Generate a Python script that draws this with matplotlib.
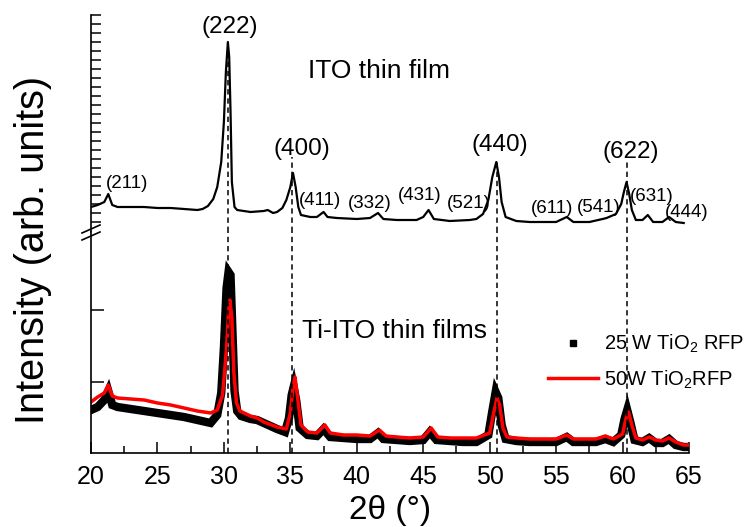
import matplotlib
matplotlib.use('Agg')
import matplotlib.pyplot as plt
from matplotlib.lines import Line2D
from matplotlib.ticker import FixedLocator, MultipleLocator

plt.rcParams['font.family'] = ['Liberation Sans', 'DejaVu Sans']
plt.rcParams['mathtext.fontset'] = 'custom'
plt.rcParams['mathtext.rm'] = 'Liberation Sans'
plt.rcParams['mathtext.it'] = 'Liberation Sans:italic'

# ITO thin film pattern (upper panel, arb. units)
ito_2theta = [20.0, 20.5, 21.0, 21.3, 21.6, 22.0, 23.0, 24.0, 25.0, 26.0, 27.0, 28.0,
              28.4, 28.8, 29.2, 29.5, 29.8, 30.0, 30.15, 30.3, 30.4, 30.5, 30.6, 30.8,
              31.0, 31.5, 32.0, 33.0, 33.3, 33.7, 34.0, 34.4, 34.7, 35.0, 35.2, 35.4,
              35.6, 35.8, 36.5, 37.0, 37.5, 37.8, 38.5, 40.0, 41.0, 41.6, 42.0, 43.0,
              44.5, 45.0, 45.4, 45.8, 47.0, 48.5, 49.0, 49.5, 49.9, 50.2, 50.5, 50.7,
              50.9, 51.2, 52.0, 53.0, 55.0, 55.8, 56.3, 57.5, 58.5, 58.8, 59.5, 59.9,
              60.1, 60.3, 60.5, 60.7, 61.0, 61.5, 61.9, 62.3, 63.0, 63.5, 64.0, 64.6]
ito_int = [25, 27, 30, 38, 27, 25, 25, 25, 24, 24, 23, 22,
           23, 26, 33, 45, 70, 110, 160, 190, 175, 120, 50, 25,
           22, 21, 20, 21, 22, 19, 20, 24, 32, 45, 59, 45,
           25, 17, 15, 15, 20, 15, 14, 13, 14, 19, 13, 12,
           12, 15, 22, 13, 11, 12, 13, 18, 32, 55, 70, 55,
           30, 15, 11, 10, 10, 15, 10, 10, 13, 14, 18, 28,
           40, 50, 38, 22, 12, 12, 17, 10, 10, 15, 10, 9]

# Ti-ITO, 25 W TiO2 RF power (lower panel)
w25_2theta = [20.0, 20.5, 21.0, 21.3, 21.6, 22.0, 23.0, 24.0, 25.0, 26.0, 27.0, 28.0,
              29.0, 29.5, 29.8, 30.0, 30.2, 30.35, 30.5, 30.65, 30.8, 31.0, 31.3, 32.0,
              32.5, 33.0, 34.0, 34.6, 34.9, 35.1, 35.25, 35.45, 35.7, 36.3, 37.0, 37.5,
              38.0, 39.0, 40.0, 41.0, 41.6, 42.0, 43.0, 44.0, 45.0, 45.5, 46.0, 47.0,
              48.0, 49.0, 49.9, 50.2, 50.45, 50.65, 50.9, 51.2, 52.0, 53.0, 54.0, 55.0,
              55.8, 56.3, 57.0, 58.0, 58.7, 59.3, 59.9, 60.15, 60.35, 60.6, 60.9, 61.5,
              62.0, 62.5, 63.0, 63.5, 64.0, 64.6, 65.0]
w25_int = [43, 46, 53, 62, 48, 46, 44, 42, 40, 38, 36, 33,
           30, 38, 60, 105, 165, 181, 178, 120, 62, 42, 37, 34,
           33, 30, 24, 21, 35, 58, 66, 52, 25, 18, 17, 24,
           16, 15, 14, 14, 20, 14, 13, 12, 13, 21, 13, 12,
           11, 11, 18, 42, 61, 55, 28, 14, 12, 11, 11, 11,
           16, 11, 11, 11, 14, 11, 18, 34, 43, 30, 13, 11,
           15, 10, 10, 14, 8, 6, 6]

# Ti-ITO, 50 W TiO2 RF power (lower panel)
w50_2theta = [20.0, 20.5, 21.0, 21.3, 21.6, 22.0, 23.0, 24.0, 25.0, 26.0, 27.0, 28.0,
              29.0, 29.5, 29.9, 30.2, 30.35, 30.45, 30.6, 30.75, 30.95, 31.2, 32.0, 32.5,
              33.0, 34.0, 34.7, 35.0, 35.2, 35.35, 35.55, 35.8, 36.3, 37.0, 37.6, 38.0,
              39.0, 40.0, 41.0, 41.7, 42.2, 43.0, 44.0, 45.0, 45.6, 46.1, 47.0, 48.0,
              49.0, 50.0, 50.3, 50.55, 50.75, 51.0, 51.3, 52.0, 53.0, 54.0, 55.0, 55.8,
              56.3, 57.0, 58.0, 58.7, 59.3, 60.0, 60.25, 60.45, 60.7, 61.0, 61.5, 62.0,
              62.5, 63.0, 63.5, 64.0, 64.6, 65.0]
w50_int = [51, 56, 60, 68, 57, 55, 54, 53, 50, 48, 45, 42,
           40, 43, 58, 105, 140, 153, 135, 80, 50, 42, 37, 35,
           31, 26, 24, 40, 66, 76, 55, 28, 21, 20, 28, 20,
           18, 18, 17, 23, 17, 16, 15, 16, 25, 16, 15, 15,
           15, 20, 40, 55, 48, 25, 16, 15, 14, 14, 14, 18,
           14, 14, 14, 17, 14, 19, 34, 41, 28, 15, 13, 16,
           13, 12, 15, 11, 8, 8]

# reflection labels
major_hkl = ['(222)', '(400)', '(440)', '(622)']
minor_hkl = ['(211)', '(411)', '(332)', '(431)', '(521)', '(611)', '(541)', '(631)', '(444)']
ref_2theta = [30.3, 35.15, 50.55, 60.3]

W, H = 752, 527
fig = plt.figure(figsize=(W / 100, H / 100), dpi=100)
ax_top = fig.add_axes([91 / W, 1 - 232 / H, 598 / W, 217 / H])
ax_bot = fig.add_axes([91 / W, 1 - 453 / H, 598 / W, 221 / H])

# dashed reference lines (upper part stops under the labels)
line_tops = [190, 75, 72, 70]
for x, top in zip(ref_2theta, line_tops):
    ax_top.axvline(x, ymin=0, ymax=top / 217.0, color='k', ls=(0, (3.5, 2.5)), lw=1.1)

ax_top.plot(ito_2theta, ito_int, color='k', lw=1.6)
ax_bot.plot(w25_2theta, w25_int, color='k', lw=6, solid_joinstyle='miter')
ax_bot.plot(w50_2theta, w50_int, color='#ff0000', lw=2.5)

for x in ref_2theta:
    ax_bot.axvline(x, color='k', ls=(0, (3.5, 2.5)), lw=1.1)

for ax in (ax_top, ax_bot):
    ax.set_xlim(20, 65)
    for s in ax.spines.values():
        s.set_linewidth(1.2)
    ax.spines['top'].set_visible(False)
    ax.spines['right'].set_visible(False)

ax_top.set_ylim(0, 217)
ax_bot.set_ylim(0, 221)

ax_top.spines['bottom'].set_visible(False)
ax_top.set_xticks([])
ax_top.yaxis.set_major_locator(FixedLocator(list(range(10, 218, 9))))
ax_top.tick_params(axis='y', direction='in', length=7, width=1.1, labelleft=False)

ax_bot.yaxis.set_major_locator(FixedLocator([71, 143]))
ax_bot.tick_params(axis='y', direction='in', length=9, width=1.1, labelleft=False)
ax_bot.xaxis.set_major_locator(MultipleLocator(5))
ax_bot.xaxis.set_minor_locator(MultipleLocator(2.5))
ax_bot.tick_params(axis='x', which='major', direction='in', length=8, width=1.1,
                   labelsize=18, pad=9)
ax_bot.tick_params(axis='x', which='minor', direction='in', length=5, width=1.1)
ax_bot.set_xlabel('2θ (°)', fontsize=24, labelpad=4)

fig.text(33 / W, 1 - 250 / H, 'Intensity (arb. units)', rotation=90, fontsize=28.5,
         ha='center', va='center')

# peak labels
major_pos = [(30.46, 199), (35.9, 77), (50.78, 81), (60.6, 74)]
for lab, (x, y) in zip(major_hkl, major_pos):
    ax_top.text(x, y, lab, fontsize=17.5, ha='center', va='baseline')
minor_pos = [(22.7, 44), (37.2, 27), (41.0, 24), (44.75, 32), (48.4, 24),
             (54.7, 19), (58.2, 20), (62.2, 31), (64.85, 15)]
for lab, (x, y) in zip(minor_hkl, minor_pos):
    ax_top.text(x, y, lab, fontsize=13.5, ha='center', va='baseline', clip_on=False)

ax_top.text(36.33, 154, 'ITO thin film', fontsize=19, ha='left', va='baseline')
ax_bot.text(35.88, 115, 'Ti-ITO thin films', fontsize=19, ha='left', va='baseline')

# axis break marks
for y0 in (233, 240):
    fig.add_artist(Line2D([82 / W, 100 / W], [1 - y0 / H, 1 - (y0 - 8) / H],
                          transform=fig.transFigure, color='k', lw=1.2))

handles = [Line2D([], [], color='k', marker='s', ls='none', markersize=4),
           Line2D([], [], color='#ff0000', lw=2.5)]
labels = ['25 W TiO$_{\\mathrm{2}}$ RFP', '50W TiO$_{\\mathrm{2}}$RFP']
ax_bot.legend(handles, labels, loc='upper left', bbox_to_anchor=(548 / W, 1 - 333 / H),
              bbox_transform=fig.transFigure, frameon=False, fontsize=14.5,
              handlelength=2.5, handletextpad=0.3, borderpad=0, borderaxespad=0,
              labelspacing=0.65)

fig.savefig('out.png', dpi=100)
